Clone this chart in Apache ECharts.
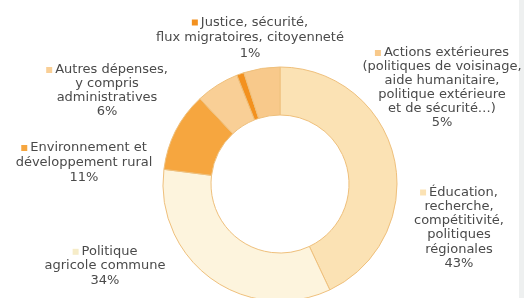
<!DOCTYPE html>
<html>
<head>
<meta charset="utf-8">
<script src="https://cdn.jsdelivr.net/npm/echarts@6/dist/echarts.min.js"></script>
<style>html,body{margin:0;padding:0;background:#fff;}#c{width:524px;height:298px;}</style>
</head>
<body>
<div id="c"></div>
<script>
// Data (clockwise from 12 o'clock)
const categories = [
  "Éducation,\nrecherche,\ncompétitivité,\npolitiques\nrégionales",
  "Politique\nagricole commune",
  "Environnement et\ndéveloppement rural",
  "Autres dépenses,\ny compris\nadministratives",
  "Justice, sécurité,\nflux migratoires, citoyenneté",
  "Actions extérieures\n(politiques de voisinage,\naide humanitaire,\npolitique extérieure\net de sécurité…)"
];
const values = [43, 34, 11, 6, 1, 5];
const colors = ["#fbe2b4", "#fdf4dd", "#f6a63f", "#f9cf96", "#f3911f", "#f8c98b"];

// Label block centres (layout only)
const labelPos = [
  [459, 228], [105, 266], [84, 163], [107, 91], [250, 38], [442, 88]
];
const labelLH = [14.2, 14.2, 15, 14, 15.5, 14];

const chart = echarts.init(document.getElementById('c'), null, {renderer: 'canvas'});
const data = categories.map((name, i) => {
  const lines = name.split('\n');
  const first = '{sq' + i + '|}' + '{gap|}' + lines[0];
  const rest = lines.slice(1).concat([values[i] + '%']);
  return {
    name: name,
    value: values[i],
    itemStyle: {color: colors[i]},
    label: {
      formatter: [first].concat(rest).join('\n'),
      lineHeight: labelLH[i]
    }
  };
});
const rich = {gap: {width: 3}};
colors.forEach((c, i) => {
  rich['sq' + i] = {width: 6, height: 6, backgroundColor: i === 1 ? '#f6ecc8' : c, verticalAlign: 'middle'};
});

chart.setOption({
  animation: false,
  backgroundColor: '#ffffff',
  graphic: [{type: 'rect', shape: {x: 519, y: 0, width: 5, height: 298}, style: {fill: '#eef0f0'}, z: -1}],
  series: [{
    type: 'pie',
    center: [280, 184],
    radius: [69, 117],
    startAngle: 90,
    clockwise: true,
    avoidLabelOverlap: false,
    itemStyle: {borderColor: '#efc07c', borderWidth: 1},
    label: {
      show: true,
      position: 'outside',
      color: '#4a4a4a',
      fontFamily: 'DejaVu Sans',
      fontSize: 13,
      align: 'center',
      rich: rich
    },
    labelLine: {show: false},
    labelLayout: function (p) {
      const pos = labelPos[p.dataIndex];
      return {x: pos[0], y: pos[1], align: 'center', verticalAlign: 'middle', hideOverlap: false};
    },
    emphasis: {disabled: true},
    data: data
  }]
});
</script>
</body>
</html>
